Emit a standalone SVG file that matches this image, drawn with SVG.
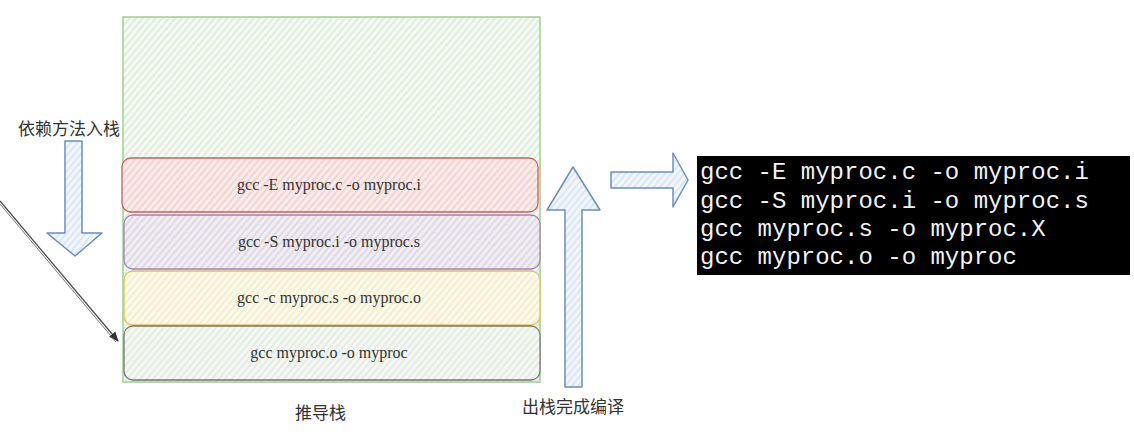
<svg xmlns="http://www.w3.org/2000/svg" width="1134" height="432" viewBox="0 0 1134 432">
<style>
.box{stroke-width:1.3}
.t{font-family:"Liberation Serif","Times New Roman",serif;font-size:16px;fill:#333;text-anchor:middle}
.cn{font-family:"Noto Sans CJK SC",sans-serif;font-size:17px;fill:#333}
.term{font-family:"Liberation Mono","Courier New",monospace;font-size:24px;fill:#f2f2f2}
.barrow{stroke:#6c8ebf;stroke-width:1.5;stroke-linejoin:round}
</style>
<defs>
<pattern id="hG" width="5" height="5" patternUnits="userSpaceOnUse" patternTransform="rotate(40)"><rect width="5" height="5" fill="#f5faf4"/><line x1="1" y1="0" x2="1" y2="5" stroke="#d8ebd5" stroke-width="1.6"/></pattern>
<pattern id="hR" width="5" height="5" patternUnits="userSpaceOnUse" patternTransform="rotate(40)"><rect width="5" height="5" fill="#f9ecea"/><line x1="1" y1="0" x2="1" y2="5" stroke="#f2cfcb" stroke-width="1.6"/></pattern>
<pattern id="hP" width="5" height="5" patternUnits="userSpaceOnUse" patternTransform="rotate(40)"><rect width="5" height="5" fill="#f0eef2"/><line x1="1" y1="0" x2="1" y2="5" stroke="#dcd4e0" stroke-width="1.6"/></pattern>
<pattern id="hY" width="5" height="5" patternUnits="userSpaceOnUse" patternTransform="rotate(40)"><rect width="5" height="5" fill="#fbf9ea"/><line x1="1" y1="0" x2="1" y2="5" stroke="#f3edc8" stroke-width="1.6"/></pattern>
<pattern id="hW" width="5" height="5" patternUnits="userSpaceOnUse" patternTransform="rotate(40)"><rect width="5" height="5" fill="#f4f7f3"/><line x1="1" y1="0" x2="1" y2="5" stroke="#e2ebe0" stroke-width="1.6"/></pattern>
<pattern id="hB" width="5" height="5" patternUnits="userSpaceOnUse" patternTransform="rotate(40)"><rect width="5" height="5" fill="#f2f6fd"/><line x1="1" y1="0" x2="1" y2="5" stroke="#d6e3f7" stroke-width="1.6"/></pattern>
<marker id="ah" markerWidth="10" markerHeight="10" refX="9" refY="5" orient="auto" markerUnits="userSpaceOnUse"><path d="M0,1 L10,5 L0,9 Z" fill="#333"/></marker>
</defs>

<g id="stack">
<rect x="123" y="17" width="417" height="365" fill="url(#hG)" stroke="#9fd08f" stroke-width="1.5"/>
</g>
<g id="n1">
<rect class="box" x="122" y="158" width="416" height="54" rx="9" fill="url(#hR)" stroke="#c9605c"/>
<text class="t" x="329" y="190">gcc -E myproc.c -o myproc.i</text>
</g>
<g id="n2">
<rect class="box" x="124" y="215" width="416" height="54" rx="9" fill="url(#hP)" stroke="#a082b8"/>
<text class="t" x="329" y="247">gcc -S myproc.i -o myproc.s</text>
</g>
<g id="n3">
<rect class="box" x="124" y="271" width="416" height="54" rx="9" fill="url(#hY)" stroke="#dcc25e"/>
<text class="t" x="329" y="303">gcc -c myproc.s -o myproc.o</text>
</g>
<g id="n4">
<rect class="box" x="124" y="326" width="416" height="54" rx="9" fill="url(#hW)" stroke="#777"/>
<text class="t" x="329" y="358" fill="#555">gcc myproc.o -o myproc</text>
</g>

<g id="labels">
<text class="cn" x="18" y="135">依赖方法入栈</text>
<text class="cn" x="295" y="419">推导栈</text>
<text class="cn" x="522" y="413">出栈完成编译</text>
</g>

<g id="connectors">
<line x1="0" y1="201" x2="118" y2="341" stroke="#444" stroke-width="1.2" marker-end="url(#ah)"/>
<line x1="0" y1="204" x2="116" y2="342" stroke="#555" stroke-width="0.8"/>
<polygon class="barrow" fill="url(#hB)" points="65,141 82,141 82,233 102,233 75,256 47,233 65,233"/>
<polygon class="barrow" fill="url(#hB)" points="565,387 582,387 582,210 600,210 573,167 547,210 565,210"/>
<polygon class="barrow" fill="url(#hB)" points="611,172 673,172 673,153 688,180 673,207 673,188 611,188"/>
</g>

<g id="terminal">
<rect x="697" y="156" width="433" height="119" fill="#000"/>
<text class="term" x="700" y="179">gcc -E myproc.c -o myproc.i</text>
<text class="term" x="700" y="208">gcc -S myproc.i -o myproc.s</text>
<text class="term" x="700" y="236">gcc myproc.s -o myproc.X</text>
<text class="term" x="700" y="264">gcc myproc.o -o myproc</text>
</g>
</svg>
